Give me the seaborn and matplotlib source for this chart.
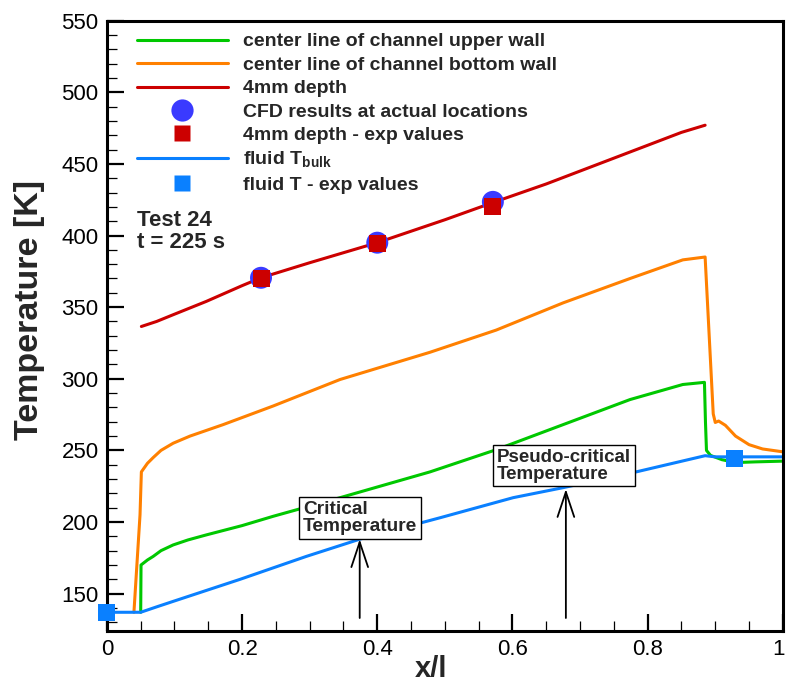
import numpy as np
import matplotlib
matplotlib.use('Agg')
import matplotlib.pyplot as plt
import matplotlib.transforms as mtransforms
import pandas as pd
import seaborn as sns
from matplotlib.lines import Line2D
from matplotlib.ticker import MultipleLocator

# values (x/l, temperature in K)
upper_x = [0.05, 0.0505, 0.06, 0.0685, 0.08, 0.098, 0.12, 0.147, 0.2, 0.246, 0.345,
           0.478, 0.576, 0.675, 0.774, 0.852, 0.884, 0.8855, 0.887, 0.893, 0.91, 0.93, 0.96, 1.0]
upper_T = [137, 170, 173.5, 176, 180, 184, 187.5, 191, 197.5, 204, 217,
           235, 250.5, 268, 285.5, 296, 297.5, 270, 250, 246.5, 243.5, 241.5, 242, 242.5]

bottom_x = [0.04, 0.049, 0.051, 0.06, 0.0685, 0.08, 0.098, 0.123, 0.172, 0.246, 0.345,
            0.478, 0.576, 0.675, 0.774, 0.852, 0.885, 0.897, 0.9, 0.905, 0.915, 0.93,
            0.95, 0.97, 1.0]
bottom_T = [137, 205, 235, 241, 245, 250, 255, 260, 268, 281, 299.5,
            318.5, 334, 353, 370, 383, 385, 275.5, 269.5, 270.5, 267.5, 260,
            254, 251, 249]

depth_x = [0.051, 0.0735, 0.098, 0.147, 0.2, 0.228, 0.3, 0.4, 0.5, 0.571, 0.65, 0.75, 0.85, 0.885]
depth_T = [336.5, 340, 344.7, 354, 365, 370.5, 381, 395, 411, 423, 436, 454, 472, 477]

bulk_x = [0.0, 0.05, 0.075, 0.098, 0.197, 0.295, 0.374, 0.493, 0.601, 0.675, 0.774, 0.885, 0.9, 0.93, 1.0]
bulk_T = [137, 137, 141, 144.6, 160, 176, 188, 203, 217, 224, 234, 246.3, 245.5, 245.5, 245.5]

cfd_x = [0.228, 0.40, 0.571]
cfd_T = [370.5, 395, 423.5]
depth_exp_T = [370, 394.5, 420.5]

fluid_exp_x = [0.0, 0.929]
fluid_exp_T = [137, 244]

c_green = '#00c800'
c_orange = '#ff8000'
c_red = '#cc0000'
c_blue = '#0a80ff'
c_cfd = '#3a3aff'

sns.set_style('ticks')
plt.rcParams['font.family'] = ['Liberation Sans', 'DejaVu Sans']
plt.rcParams['mathtext.fontset'] = 'custom'
plt.rcParams['mathtext.bf'] = 'Liberation Sans:bold'
plt.rcParams['mathtext.rm'] = 'Liberation Sans:bold'

fig, ax = plt.subplots(figsize=(7.86, 6.88), dpi=100)
fig.subplots_adjust(left=0.136, right=0.996, top=0.970, bottom=0.083)

lw = 2.2
sns.lineplot(x=upper_x, y=upper_T, sort=False, estimator=None, color=c_green, lw=lw, ax=ax)
sns.lineplot(x=bottom_x, y=bottom_T, sort=False, estimator=None, color=c_orange, lw=lw, ax=ax)
sns.lineplot(x=depth_x, y=depth_T, sort=False, estimator=None, color=c_red, lw=lw, ax=ax)
sns.lineplot(x=bulk_x, y=bulk_T, sort=False, estimator=None, color=c_blue, lw=lw, ax=ax)

sns.scatterplot(x=cfd_x, y=cfd_T, marker='o', s=250, color=c_cfd, edgecolor='none', ax=ax, zorder=5)
sns.scatterplot(x=cfd_x, y=depth_exp_T, marker='s', s=150, color=c_red, edgecolor='none', ax=ax, zorder=6)
sns.scatterplot(x=fluid_exp_x, y=fluid_exp_T, marker='s', s=150, color=c_blue, edgecolor='none',
                ax=ax, zorder=6, clip_on=False)

ax.set_xlim(0, 1)
ax.set_ylim(124, 550)
ax.xaxis.set_minor_locator(MultipleLocator(0.05))
ax.yaxis.set_major_locator(MultipleLocator(50))
ax.yaxis.set_minor_locator(MultipleLocator(10))
ax.set_xticks([0, 0.2, 0.4, 0.6, 0.8, 1.0])
ax.set_xticklabels(['0', '0.2', '0.4', '0.6', '0.8', '1'])

for s in ax.spines.values():
    s.set_linewidth(2.2)
    s.set_color('black')
ax.tick_params(which='both', direction='in', top=False, right=False, colors='black', labelsize=16, pad=6)
ax.tick_params(which='major', length=12, width=1.6)
ax.tick_params(which='minor', length=7, width=0.9)

# keep the "1" at the right end inside the picture
last = ax.get_xticklabels()[-1]
last.set_horizontalalignment('right')
last.set_transform(last.get_transform() + mtransforms.ScaledTranslation(2 / 100, 0, fig.dpi_scale_trans))

ax.set_xlabel('x/l', fontsize=21, fontweight='bold')
ax.set_ylabel('Temperature [K]', fontsize=24.5, fontweight='bold')
ax.xaxis.set_label_coords(0.48, -0.040)
ax.yaxis.set_label_coords(-0.092, 0.526)

handles = [
    Line2D([], [], color=c_green, lw=lw),
    Line2D([], [], color=c_orange, lw=lw),
    Line2D([], [], color=c_red, lw=lw),
    Line2D([], [], ls='none', marker='o', ms=16, color=c_cfd, mec='none'),
    Line2D([], [], ls='none', marker='s', ms=12, color=c_red, mec='none'),
    Line2D([], [], color=c_blue, lw=lw),
    Line2D([], [], ls='none', marker='s', ms=12, color=c_blue, mec='none'),
]
labels = ['center line of channel upper wall', 'center line of channel bottom wall',
          '4mm depth', 'CFD results at actual locations', '4mm depth - exp values',
          r'fluid T$_{\mathbf{bulk}}$', 'fluid T - exp values']
leg = ax.legend(handles, labels, loc='upper left', bbox_to_anchor=(0.044, 0.980),
                frameon=False, borderpad=0, borderaxespad=0, handlelength=4.7,
                handletextpad=0.75, labelspacing=0.3,
                prop={'family': 'Liberation Sans', 'weight': 'bold', 'size': 14})

ax.text(0.044, 0.672, 'Test 24', transform=ax.transAxes, fontsize=16, fontweight='bold', va='center')
ax.text(0.044, 0.637, 't = 225 s', transform=ax.transAxes, fontsize=16, fontweight='bold', va='center')

arrow = dict(arrowstyle='->,head_length=1.2,head_width=0.4', lw=1.3, color='black',
             mutation_scale=15, shrinkA=0, shrinkB=0)
ax.annotate('', xy=(0.374, 188), xytext=(0.374, 133), arrowprops=arrow)
ax.annotate('', xy=(0.679, 223), xytext=(0.679, 133), arrowprops=arrow)

box = dict(boxstyle='square,pad=0.2', fc='white', ec='black', lw=1.0)
ax.text(0.29, 214.9, 'Critical\nTemperature', fontsize=13.8, fontweight='bold', va='top', ha='left',
        linespacing=1.0, bbox=box, zorder=7)
ax.text(0.577, 251.2, 'Pseudo-critical\nTemperature', fontsize=13.5, fontweight='bold', va='top',
        ha='left', linespacing=1.0, bbox=box, zorder=7)

fig.savefig('out.png', dpi=100)
